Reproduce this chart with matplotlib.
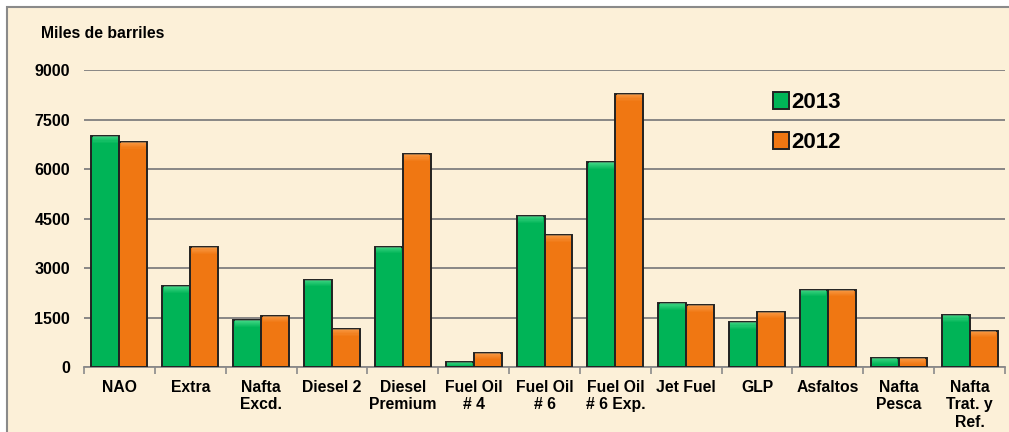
import matplotlib.pyplot as plt
import matplotlib.patches as mpatches
import numpy as np

plt.rcParams['font.family'] = ['Liberation Sans', 'DejaVu Sans']
plt.rcParams['font.weight'] = 'bold'

# datos (miles de barriles)
productos = ['NAO', 'Extra', 'Nafta\nExcd.', 'Diesel 2', 'Diesel\nPremium',
             'Fuel Oil\n# 4', 'Fuel Oil\n# 6', 'Fuel Oil\n# 6 Exp.', 'Jet Fuel',
             'GLP', 'Asfaltos', 'Nafta\nPesca', 'Nafta\nTrat. y\nRef.']
v2013 = [7000, 2440, 1410, 2640, 3640, 160, 4570, 6200, 1930, 1360, 2340, 280, 1570]
v2012 = [6820, 3630, 1560, 1150, 6450, 430, 4000, 8270, 1870, 1670, 2340, 280, 1100]
yticks = [0, 1500, 3000, 4500, 6000, 7500, 9000]

fondo = '#fcf0d8'
verde = '#00b457'
naranja = '#f07712'
borde = '#222222'

fig = plt.figure(figsize=(10.09, 4.32), dpi=100)
fig.patch.set_facecolor('white')
# marco del grafico
marco = mpatches.Rectangle((7 / 1009, -0.01), 1.1, 1 - 7 / 432 + 0.01,
                           transform=fig.transFigure, facecolor=fondo,
                           edgecolor='#8a8a8a', linewidth=1.5, zorder=-5)
fig.add_artist(marco)

ax = fig.add_axes([84 / 1009, 1 - 367 / 432, (1005 - 84) / 1009, (367 - 70) / 432])
ax.set_facecolor('none')
ax.set_zorder(2)

x = np.arange(len(productos))
w = 0.395
b1 = ax.bar(x - w / 2, v2013, w, color=verde, edgecolor=borde, linewidth=1.4,
            label='2013', zorder=3)
b2 = ax.bar(x + w / 2, v2012, w, color=naranja, edgecolor=borde, linewidth=1.4,
            label='2012', zorder=3)

# brillo en la parte superior de las barras (degradado)
for barras, claro in ((b1, '#5ee89a'), (b2, '#ffae60')):
    for r in barras:
        h = min(200, r.get_height() * 0.8)
        pasos = 6
        for i in range(pasos):
            ax.add_patch(mpatches.Rectangle(
                (r.get_x() + 0.02, r.get_height() - h * (i + 1) / pasos),
                r.get_width() - 0.04, h / pasos,
                facecolor=claro, edgecolor='none',
                alpha=0.6 * (1 - i / pasos), zorder=3.5))

ax.set_xlim(-0.5, len(productos) - 0.5)
ax.set_ylim(0, 9000)
ax.set_yticks(yticks)
ax.set_yticklabels([str(v) for v in yticks], fontsize=11.5, fontweight='bold')
ax.yaxis.grid(True, color='#7f7f7f', linewidth=1.3, zorder=1)
ax.set_axisbelow(True)
ax.tick_params(axis='y', length=0, pad=10)

ax.set_xticks(x)
ax.set_xticklabels(productos, fontsize=11.3, fontweight='bold', linespacing=1.22)
ax.set_xticks(np.arange(len(productos) + 1) - 0.5, minor=True)
ax.tick_params(axis='x', which='major', length=0, pad=9)
ax.tick_params(axis='x', which='minor', length=5, color='#8a8a8a', width=1.2)

for s in ('top', 'right', 'left'):
    ax.spines[s].set_visible(False)
ax.spines['bottom'].set_color('#8a8a8a')
ax.spines['bottom'].set_linewidth(1.3)

fig.text(41 / 1009, 1 - 34 / 432, 'Miles de barriles', fontsize=11.3,
         fontweight='bold', va='center', ha='left')

ax.legend(loc='upper left', bbox_to_anchor=(0.738, 0.955), frameon=False,
          prop={'size': 16, 'weight': 'bold'}, handlelength=0.75,
          handleheight=0.75, handletextpad=0.1, labelspacing=0.85,
          borderaxespad=0)

fig.savefig('out.png', dpi=100, facecolor=fig.get_facecolor())
